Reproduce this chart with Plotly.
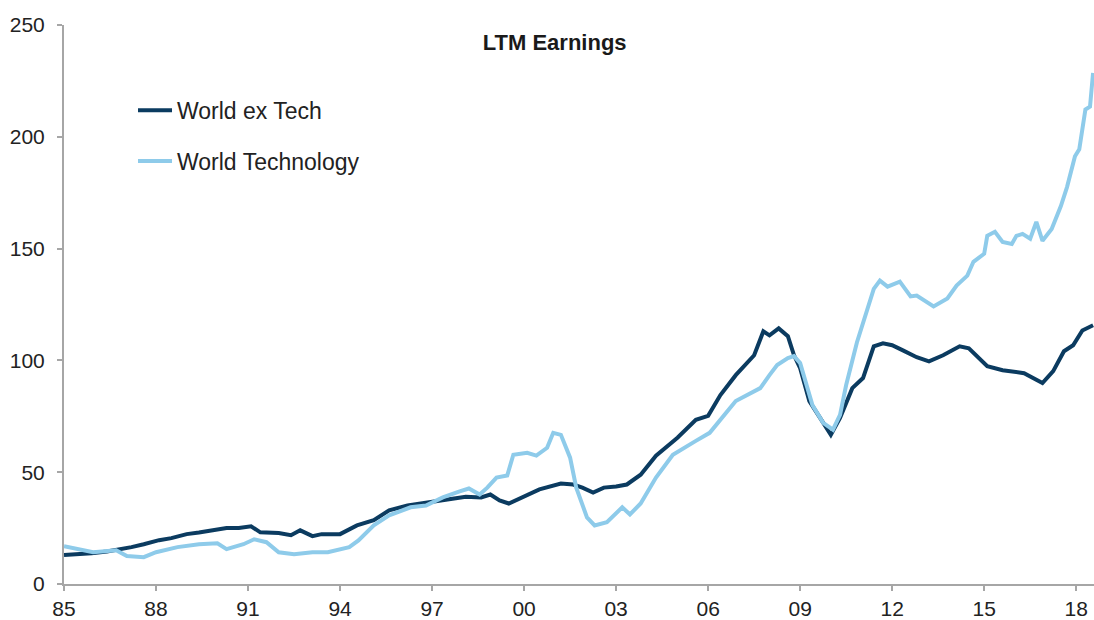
import plotly.graph_objects as go

# decimal years and values
ex_tech_x = [1985.0, 1985.5, 1985.9, 1986.4, 1986.8, 1987.2, 1987.6, 1988.1, 1988.5, 1989.0,
             1989.4, 1989.8, 1990.3, 1990.7, 1991.1, 1991.4, 1992.0, 1992.4, 1992.7, 1993.1,
             1993.4, 1994.0, 1994.55, 1995.1, 1995.6, 1996.2, 1996.8, 1997.5, 1998.1, 1998.6,
             1998.9, 1999.2, 1999.5, 1999.96, 2000.5, 2001.2, 2001.6, 2001.9, 2002.25, 2002.6,
             2003.0, 2003.35, 2003.8, 2004.3, 2005.0, 2005.6, 2006.0, 2006.4, 2006.9, 2007.5,
             2007.8, 2008.0, 2008.3, 2008.6, 2008.8, 2009.0, 2009.3, 2009.65, 2010.0, 2010.3,
             2010.7, 2011.05, 2011.4, 2011.7, 2012.0, 2012.35, 2012.8, 2013.2, 2013.66, 2014.2,
             2014.5, 2015.1, 2015.6, 2016.3, 2016.9, 2017.25, 2017.6, 2017.9, 2018.2, 2018.55]
ex_tech_y = [13.0, 13.3, 13.8, 14.5, 15.3, 16.5, 17.8, 19.6, 20.5, 22.3,
             23.0, 24.0, 25.0, 25.0, 25.8, 23.1, 22.8, 21.8, 24.0, 21.4,
             22.3, 22.3, 26.2, 28.5, 32.9, 35.1, 36.5, 37.8, 39.0, 38.7,
             40.0, 37.4, 36.0, 38.7, 42.3, 44.9, 44.5, 43.1, 40.9, 43.1,
             43.6, 44.5, 48.9, 57.4, 65.4, 73.4, 75.2, 84.5, 93.4, 102.3,
             113.0, 111.2, 114.3, 110.8, 102.3, 96.5, 81.8, 74.3, 66.7, 74.3,
             87.6, 92.1, 106.3, 107.6, 106.8, 104.5, 101.4, 99.6, 102.3, 106.3,
             105.4, 97.4, 95.6, 94.3, 89.9, 95.2, 104.1, 106.8, 113.4, 115.7]

tech_x = [1985.0, 1985.5, 1985.95, 1986.7, 1987.05, 1987.6, 1988.0, 1988.7, 1989.4, 1990.0,
          1990.3, 1990.85, 1991.2, 1991.6, 1992.0, 1992.5, 1993.1, 1993.6, 1994.1, 1994.3,
          1994.6, 1995.1, 1995.6, 1996.3, 1996.8, 1997.35, 1997.9, 1998.2, 1998.55, 1998.8,
          1999.1, 1999.45, 1999.65, 2000.1, 2000.4, 2000.75, 2000.95, 2001.2, 2001.5, 2001.7,
          2002.05, 2002.3, 2002.7, 2003.2, 2003.45, 2003.8, 2004.3, 2004.85, 2005.6, 2006.05,
          2006.9, 2007.7, 2008.0, 2008.25, 2008.6, 2008.8, 2009.0, 2009.2, 2009.4, 2009.75,
          2010.07, 2010.3, 2010.5, 2010.85, 2011.2, 2011.4, 2011.6, 2011.85, 2012.25, 2012.6,
          2012.8, 2013.35, 2013.8, 2014.1, 2014.45, 2014.65, 2015.0, 2015.1, 2015.35, 2015.6,
          2015.9, 2016.05, 2016.25, 2016.5, 2016.7, 2016.9, 2017.2, 2017.5, 2017.7, 2017.96,
          2018.1, 2018.3, 2018.45, 2018.55]
tech_y = [16.9, 15.6, 14.2, 15.1, 12.5, 12.0, 14.2, 16.5, 17.8, 18.2,
          15.6, 17.8, 20.0, 18.7, 14.2, 13.3, 14.2, 14.2, 15.6, 16.5,
          19.5, 26.2, 30.7, 34.3, 35.1, 38.7, 41.4, 42.7, 40.0, 43.1,
          47.6, 48.5, 57.8, 58.7, 57.4, 60.9, 67.6, 66.7, 56.5, 43.1,
          29.8, 26.2, 27.6, 34.3, 31.1, 36.0, 47.6, 57.8, 64.0, 67.6,
          81.8, 87.6, 93.4, 97.9, 101.0, 101.9, 98.8, 89.0, 80.0, 72.1,
          69.0, 75.6, 89.0, 108.0, 122.5, 132.0, 135.7, 133.0, 135.2, 128.6,
          129.0, 124.1, 127.7, 133.5, 137.9, 144.1, 147.7, 155.7, 157.5, 153.0,
          152.1, 155.7, 156.6, 154.4, 161.9, 153.5, 158.8, 169.0, 177.5, 191.3,
          194.4, 212.2, 213.5, 228.6]

x_tickvals = [1985, 1988, 1991, 1994, 1997, 2000, 2003, 2006, 2009, 2012, 2015, 2018]
x_ticktext = ["85", "88", "91", "94", "97", "00", "03", "06", "09", "12", "15", "18"]
y_tickvals = [0, 50, 100, 150, 200, 250]

DARK = "#0b3b60"
LIGHT = "#8ecbea"
AXIS = "#a6a6a6"
FONT = "Liberation Sans, Arial, sans-serif"
TXT = "#222222"

fig = go.Figure()
fig.add_trace(go.Scatter(x=ex_tech_x, y=ex_tech_y, mode="lines", name="World ex Tech",
                         legendgroup="a", line=dict(color=DARK, width=4)))
fig.add_trace(go.Scatter(x=tech_x, y=tech_y, mode="lines", name="World Technology",
                         legendgroup="b", line=dict(color=LIGHT, width=4)))

fig.update_layout(
    width=1094, height=620,
    margin=dict(l=64, r=0, t=25, b=33),
    paper_bgcolor="white", plot_bgcolor="white",
    font=dict(family=FONT, size=21, color=TXT),
    title=dict(text="<b>LTM Earnings</b>", x=0.507, xanchor="center", y=0.932, yanchor="middle",
               font=dict(family=FONT, size=22, color="#1a1a1a")),
    legend=dict(x=0.067, y=0.886, xanchor="left", yanchor="top", bgcolor="rgba(0,0,0,0)",
                font=dict(family=FONT, size=23, color=TXT), tracegroupgap=18,
                itemwidth=34),
    showlegend=True,
)
fig.update_xaxes(range=[1985, 2018.58], tickvals=x_tickvals, ticktext=x_ticktext,
                 showgrid=False, zeroline=False, showline=True, linecolor=AXIS, linewidth=2,
                 ticks="outside", ticklen=5, tickcolor=AXIS, tickwidth=2,
                 tickfont=dict(family=FONT, size=21, color=TXT))
fig.update_yaxes(range=[0, 250], tickvals=y_tickvals, showgrid=False, zeroline=False,
                 showline=True, linecolor=AXIS, linewidth=2,
                 ticks="outside", ticklen=5, tickcolor=AXIS, tickwidth=2,
                 ticklabelstandoff=8,
                 tickfont=dict(family=FONT, size=21, color=TXT))

fig.write_html("out.html", config={"displayModeBar": False},
               post_script="document.body.style.margin='0';")
